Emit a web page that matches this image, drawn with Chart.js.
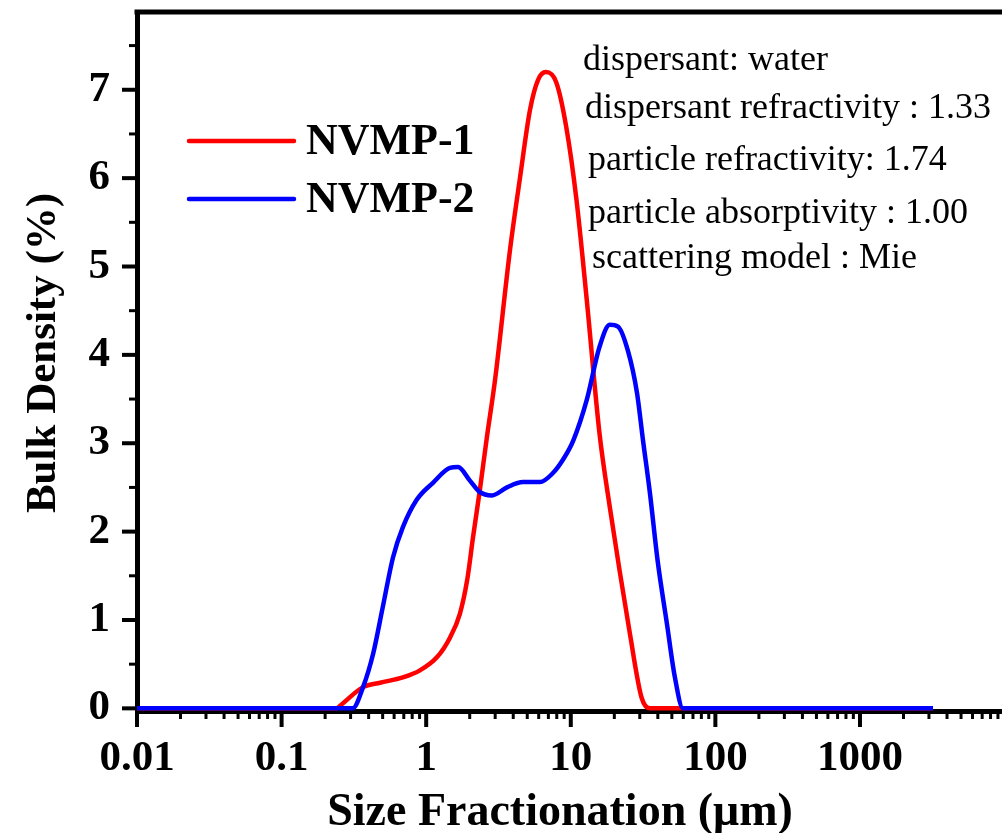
<!DOCTYPE html>
<html>
<head>
<meta charset="utf-8">
<script src="https://cdn.jsdelivr.net/npm/chart.js@4.4.1/dist/chart.umd.min.js"></script>
<style>
html, body { margin: 0; padding: 0; background: #fff; }
#wrap { width: 1002px; height: 833px; }
</style>
</head>
<body>
<div id="wrap"><canvas id="psdChart" width="1002" height="833"></canvas></div>
<script>
// particle size (um) and bulk density (%)
const sizes1 = [0.01, 0.24, 0.254, 0.366, 0.48, 0.69, 0.906, 1.19, 1.46, 1.71, 1.92, 2.11, 2.35, 2.63, 2.99,
    3.8, 4.46, 5.22, 5.93, 6.73, 7.95, 9.3, 10.96, 12.9, 15.8, 18.6, 21.9, 25.6, 30.9, 35.3, 3200];
const density1 = [0, 0, 0.03, 0.24, 0.29, 0.35, 0.43, 0.58, 0.80, 1.07, 1.45, 1.94, 2.47, 3.07, 3.71,
    5.19, 6.01, 6.77, 7.11, 7.20, 7.08, 6.58, 5.75, 4.62, 3.11, 2.28, 1.53, 0.85, 0.12, 0, 0];

const sizes2 = [0.01, 0.31, 0.366, 0.43, 0.50, 0.59, 0.69, 0.86, 1.11, 1.46, 1.66, 2.0, 2.34, 2.85, 3.62,
    4.67, 6.12, 7.5, 8.8, 10.4, 12.9, 15.8, 18.6, 21.2, 24.8, 28.7, 31.6, 35.3, 39.8, 46.2, 52.5, 59.7, 3200];
const density2 = [0, 0, 0.24, 0.62, 1.14, 1.71, 2.05, 2.36, 2.55, 2.72, 2.73, 2.58, 2.45, 2.41, 2.50,
    2.56, 2.56, 2.66, 2.81, 3.03, 3.49, 4.09, 4.34, 4.32, 4.05, 3.57, 3.03, 2.43, 1.68, 0.96, 0.35, 0, 0];

const seriesNames = ["NVMP-1", "NVMP-2"];
const seriesColors = ["#ff0000", "#0000ff"];

const xTickValues = [0.01, 0.1, 1, 10, 100, 1000];
const xTickLabels = ["0.01", "0.1", "1", "10", "100", "1000"];
const yTickValues = [0, 1, 2, 3, 4, 5, 6, 7];

const notes = [
    "dispersant: water",
    "dispersant refractivity : 1.33",
    "particle refractivity: 1.74",
    "particle absorptivity : 1.00",
    "scattering model : Mie"
];

const serif = '"Liberation Serif", "Times New Roman", serif';

function toPoints(xs, ys) {
    return xs.map((x, i) => ({ x: x, y: ys[i] }));
}

// frame, minor ticks, legend, notes and axis titles
const decorPlugin = {
    id: "decor",
    afterDraw(chart) {
        const ctx = chart.ctx;
        const area = chart.chartArea;
        const xs = chart.scales.x;
        const ys = chart.scales.y;

        ctx.save();
        ctx.strokeStyle = "#000";
        ctx.lineCap = "butt";

        // top frame line
        ctx.lineWidth = 5;
        ctx.beginPath();
        ctx.moveTo(area.left - 2.5, area.top);
        ctx.lineTo(chart.width, area.top);
        ctx.stroke();

        // x ticks (log)
        for (let d = -2; d <= 3; d++) {
            for (let k = 1; k <= 9; k++) {
                const v = k * Math.pow(10, d);
                if (v < xs.min || v > xs.max) continue;
                const px = xs.getPixelForValue(v);
                const major = k === 1;
                ctx.lineWidth = major ? 4 : 3;
                ctx.beginPath();
                ctx.moveTo(px, area.bottom + 2);
                ctx.lineTo(px, area.bottom + (major ? 16 : 8));
                ctx.stroke();
            }
        }

        // y ticks
        for (let v = 0; v <= 7.5; v += 0.5) {
            const py = ys.getPixelForValue(v);
            const major = Number.isInteger(v);
            ctx.lineWidth = major ? 4 : 3;
            ctx.beginPath();
            ctx.moveTo(area.left - 2, py);
            ctx.lineTo(area.left - (major ? 15 : 8), py);
            ctx.stroke();
        }

        // legend
        const legendY = [141, 199];
        ctx.font = "bold 44px " + serif;
        ctx.textBaseline = "middle";
        ctx.textAlign = "left";
        seriesNames.forEach((name, i) => {
            ctx.strokeStyle = seriesColors[i];
            ctx.lineWidth = 4.5;
            ctx.lineCap = "round";
            ctx.beginPath();
            ctx.moveTo(189, legendY[i]);
            ctx.lineTo(294, legendY[i]);
            ctx.stroke();
            ctx.fillStyle = "#000";
            ctx.fillText(name, 306, legendY[i] + 2);
        });

        // measurement notes
        const noteX = [583, 585, 588, 588, 592];
        const noteY = [70, 118, 170, 223, 268];
        ctx.font = "36px " + serif;
        ctx.textBaseline = "alphabetic";
        notes.forEach((t, i) => ctx.fillText(t, noteX[i], noteY[i]));

        // axis titles
        ctx.font = "bold 46px " + serif;
        ctx.textAlign = "center";
        ctx.fillText("Size Fractionation (\u03bcm)", 560, 825);

        ctx.save();
        ctx.font = "bold 43px " + serif;
        ctx.translate(55, 353);
        ctx.rotate(-Math.PI / 2);
        ctx.fillText("Bulk Density (%)", 0, 0);
        ctx.restore();

        ctx.restore();
    }
};

new Chart(document.getElementById("psdChart"), {
    type: "line",
    data: {
        datasets: [{
            label: seriesNames[0],
            data: toPoints(sizes1, density1),
            borderColor: seriesColors[0],
            borderWidth: 4.5,
            pointRadius: 0,
            fill: false,
            cubicInterpolationMode: "monotone",
            order: 1
        }, {
            label: seriesNames[1],
            data: toPoints(sizes2, density2),
            borderColor: seriesColors[1],
            borderWidth: 4.5,
            pointRadius: 0,
            fill: false,
            cubicInterpolationMode: "monotone",
            order: 0
        }]
    },
    options: {
        responsive: false,
        devicePixelRatio: 1,
        animation: false,
        layout: { padding: { top: 12, left: 0, right: 0, bottom: 0 } },
        plugins: {
            legend: { display: false },
            tooltip: { enabled: false }
        },
        scales: {
            x: {
                type: "logarithmic",
                min: 0.01,
                max: 9600,
                grid: { display: false, drawTicks: false },
                border: { display: true, color: "#000", width: 5 },
                ticks: {
                    color: "#000",
                    font: { family: serif, size: 43, weight: "bold" },
                    padding: 22,
                    autoSkip: false,
                    maxRotation: 0,
                    callback: (v, i) => xTickLabels[i]
                },
                afterBuildTicks: scale => {
                    scale.ticks = xTickValues.map(v => ({ value: v }));
                },
                afterFit: scale => {
                    scale.height = 122;
                    scale.paddingLeft = 0;
                    scale.paddingRight = 0;
                }
            },
            y: {
                type: "linear",
                min: -0.03,
                max: 7.88,
                grid: { display: false, drawTicks: false },
                border: { display: true, color: "#000", width: 5 },
                ticks: {
                    color: "#000",
                    font: { family: serif, size: 43, weight: "bold" },
                    padding: 27,
                    callback: (v, i) => String(yTickValues[i])
                },
                afterBuildTicks: scale => {
                    scale.ticks = yTickValues.map(v => ({ value: v }));
                },
                afterFit: scale => {
                    scale.width = 137;
                    scale.paddingTop = 0;
                    scale.paddingBottom = 0;
                }
            }
        }
    },
    plugins: [decorPlugin]
});
</script>
</body>
</html>
